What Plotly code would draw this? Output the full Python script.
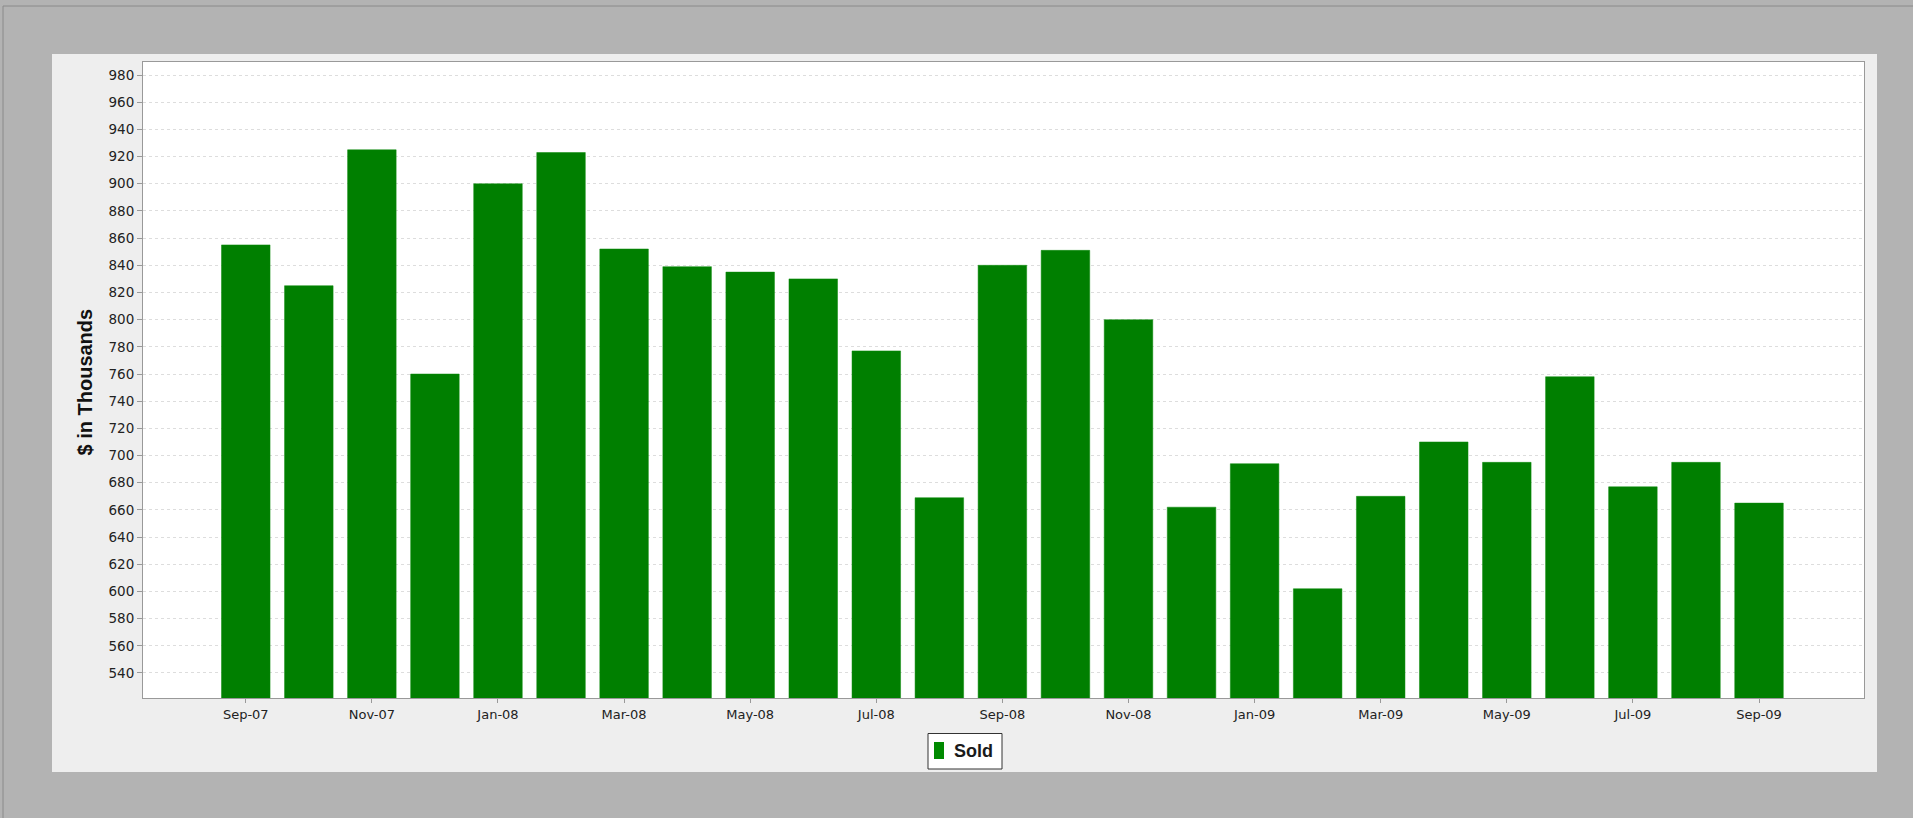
import plotly.graph_objects as go

months = ["Sep-07", "Oct-07", "Nov-07", "Dec-07", "Jan-08", "Feb-08", "Mar-08", "Apr-08",
          "May-08", "Jun-08", "Jul-08", "Aug-08", "Sep-08", "Oct-08", "Nov-08", "Dec-08",
          "Jan-09", "Feb-09", "Mar-09", "Apr-09", "May-09", "Jun-09", "Jul-09", "Aug-09", "Sep-09"]
sold = [855, 825, 925, 760, 900, 923, 852, 839, 835, 830, 777, 669, 840, 851, 800, 662,
        694, 602, 670, 710, 695, 758, 677, 695, 665]
y_ticks = list(range(540, 981, 20))
x_ticks = months[::2]
series_name = "Sold"
y_title = "$ in Thousands"

W, H = 1913, 818
L, R, T, B = 143, 1864, 62, 698
pw, ph = R - L, B - T

def px(x):
    return (x - L) / pw

def py(y):
    return (B - y) / ph

FONT = "Liberation Sans, Arial, Helvetica, sans-serif"
TICKFONT = "DejaVu Sans, Verdana, sans-serif"
GREEN = "#007F00"

fig = go.Figure()
fig.add_trace(go.Bar(
    x=months, y=sold, name=series_name,
    marker=dict(color=GREEN, line=dict(color="#0a8a0a", width=0.5)),
    showlegend=False,
))

fig.update_layout(
    width=W, height=H,
    margin=dict(l=L, r=W - R, t=T, b=H - B, pad=0),
    paper_bgcolor="#b3b3b3",
    plot_bgcolor="white",
    font=dict(family=FONT, size=13, color="#333333"),
    bargap=0.23,
    showlegend=False,
    xaxis=dict(
        type="category",
        categoryorder="array", categoryarray=months,
        range=[-1.63, 25.665],
        tickmode="array", tickvals=x_ticks, ticktext=x_ticks,
        ticks="outside", ticklen=4, tickcolor="#999999",
        showgrid=False, zeroline=False,
        showline=True, linecolor="#999999", linewidth=1, mirror=True,
        tickfont=dict(family=TICKFONT, size=13, color="#222222"),
    ),
    yaxis=dict(
        range=[521.6, 989.6],
        tickmode="array", tickvals=y_ticks,
        ticks="outside", ticklen=5, tickcolor="#999999",
        showgrid=True, gridcolor="#dddddd", griddash="3px,3px", gridwidth=1,
        zeroline=False,
        showline=True, linecolor="#999999", linewidth=1, mirror=True,
        tickfont=dict(family=TICKFONT, size=13.5, color="#222222"),
    ),
    shapes=[
        dict(type="rect", xref="paper", yref="paper",
             x0=px(3), x1=px(W + 5), y0=py(H + 5), y1=py(6),
             line=dict(color="#8a8a8a", width=1), fillcolor="rgba(0,0,0,0)", layer="below"),
        dict(type="rect", xref="paper", yref="paper",
             x0=px(52), x1=px(1877), y0=py(772), y1=py(54),
             line=dict(width=0), fillcolor="#eeeeee", layer="below"),
        dict(type="rect", xref="paper", yref="paper",
             x0=0, x1=1, y0=0, y1=1,
             line=dict(width=0), fillcolor="white", layer="below"),
        # legend box
        dict(type="rect", xref="paper", yref="paper",
             x0=px(928), x1=px(1002), y0=py(769), y1=py(733.5),
             line=dict(color="#333333", width=1), fillcolor="white", layer="above"),
        # legend swatch
        dict(type="rect", xref="paper", yref="paper",
             x0=px(934), x1=px(944), y0=py(759), y1=py(742),
             line=dict(width=0), fillcolor="#008A00", layer="above"),
    ],
    annotations=[
        dict(text="<b>" + y_title + "</b>", textangle=-90,
             xref="paper", yref="paper", x=px(84), y=py(382.5),
             xanchor="center", yanchor="middle", showarrow=False,
             font=dict(family=FONT, size=20, color="#111111")),
        dict(text="<b>" + series_name + "</b>",
             xref="paper", yref="paper", x=px(952), y=py(751),
             xanchor="left", yanchor="middle", showarrow=False,
             font=dict(family=FONT, size=18, color="#1a1a1a")),
    ],
)

fig.write_html(
    "out.html",
    config={"displayModeBar": False},
    post_script="document.body.style.margin='0';document.body.style.overflow='hidden';",
)
